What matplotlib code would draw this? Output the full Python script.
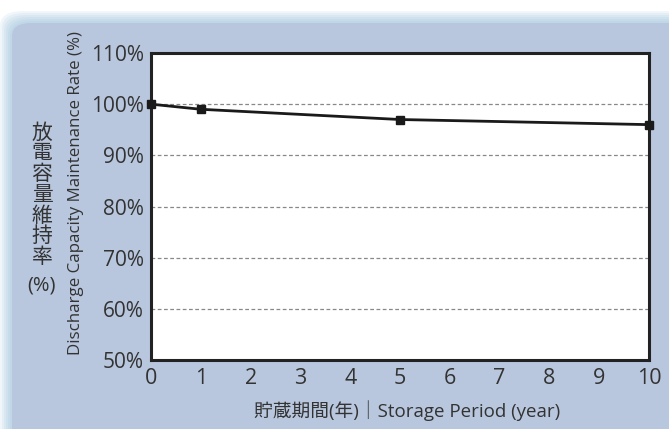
import matplotlib.pyplot as plt
from matplotlib.patches import FancyBboxPatch

plt.rcParams['font.family'] = ['Open Sans', 'Noto Sans CJK JP', 'DejaVu Sans']

years = [0, 1, 5, 10]
rate = [100, 99, 97, 96]
xticks = list(range(0, 11))
yticks = [50, 60, 70, 80, 90, 100, 110]
ylabel_jp = '放電容量維持率'

W, H = 669, 429
fig = plt.figure(figsize=(W / 100, H / 100), dpi=100)
fig.patch.set_facecolor('white')

# soft glow around the panel, then the panel itself
for off in range(12, 0, -2):
    p = FancyBboxPatch(((12 - off) / W, -0.2), (W + 40) / W, (H - 23 + off) / H + 0.2,
                       boxstyle='round,pad=0,rounding_size=0.035',
                       transform=fig.transFigure, facecolor='#8dbad8', edgecolor='none',
                       alpha=0.12, zorder=-5)
    fig.patches.append(p)
panel = FancyBboxPatch((12 / W, -0.2), (W + 40) / W, (H - 23) / H + 0.2,
                       boxstyle='round,pad=0,rounding_size=0.03',
                       transform=fig.transFigure, facecolor='#b8c7de', edgecolor='none',
                       zorder=-4)
fig.patches.append(panel)

ax = fig.add_axes([151 / W, 1 - 360 / H, (649 - 151) / W, (360 - 53) / H])
ax.set_zorder(2)
ax.set_facecolor('white')
ax.plot(years, rate, color='#1a1a1a', lw=2, marker='s', ms=6, clip_on=False, zorder=5)

ax.set_xlim(0, 10)
ax.set_ylim(50, 110)
ax.set_xticks(xticks)
ax.set_yticks(yticks)
ax.set_yticklabels([f'{v}%' for v in yticks])
ax.tick_params(length=0, labelsize=15, colors='#333333')
ax.tick_params(axis='x', pad=6, labelsize=15.5)
ax.tick_params(axis='y', pad=5)
for v in yticks[1:-1]:
    ax.axhline(v, color='#888888', lw=0.9, ls=(0, (3, 2)), zorder=1)
for s in ax.spines.values():
    s.set_color('#222222')
    s.set_linewidth(2.2)

fig.text(76 / W, 1 - 193 / H, 'Discharge Capacity Maintenance Rate (%)', rotation=90,
         ha='center', va='center', fontsize=12.2, color='#333333')
for k, ch in enumerate(ylabel_jp):
    fig.text(42 / W, 1 - (133 + k * 20.8) / H, ch, ha='center', va='center',
             fontsize=15, color='#333333')
fig.text(42 / W, 1 - 286 / H, '(%)', ha='center', va='center', fontsize=14.5, color='#333333')
fig.text(407 / W, 1 - 411 / H, '貯蔵期間(年)｜Storage Period (year)', ha='center', va='center',
         fontsize=13.5, color='#333333')

fig.savefig('out.png', dpi=100, facecolor='white')
